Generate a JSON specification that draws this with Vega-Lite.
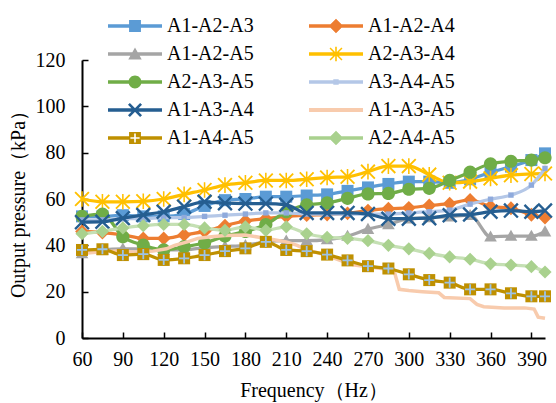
{
"$schema":"https://vega.github.io/schema/vega-lite/v6.json",
"width":463,"height":278,
"autosize":{"type":"none"},
"padding":{"left":82,"top":60,"right":11,"bottom":65},
"background":"white",
"data":{"values":[
{"s":"A1-A2-A3","f":60,"p":52.5},{"s":"A1-A2-A3","f":75,"p":52.5},{"s":"A1-A2-A3","f":90,"p":53},{"s":"A1-A2-A3","f":105,"p":52.5},{"s":"A1-A2-A3","f":120,"p":52.5},{"s":"A1-A2-A3","f":135,"p":53.5},{"s":"A1-A2-A3","f":150,"p":57},{"s":"A1-A2-A3","f":165,"p":59.5},{"s":"A1-A2-A3","f":180,"p":60},{"s":"A1-A2-A3","f":195,"p":61},{"s":"A1-A2-A3","f":210,"p":61},{"s":"A1-A2-A3","f":225,"p":61.5},{"s":"A1-A2-A3","f":240,"p":62},{"s":"A1-A2-A3","f":255,"p":63.5},{"s":"A1-A2-A3","f":270,"p":65},{"s":"A1-A2-A3","f":285,"p":66.5},{"s":"A1-A2-A3","f":300,"p":67.5},{"s":"A1-A2-A3","f":315,"p":67.5},{"s":"A1-A2-A3","f":330,"p":67},{"s":"A1-A2-A3","f":345,"p":68.5},{"s":"A1-A2-A3","f":360,"p":71.5},{"s":"A1-A2-A3","f":375,"p":74},{"s":"A1-A2-A3","f":390,"p":76.8},{"s":"A1-A2-A3","f":400,"p":79.7},
{"s":"A1-A2-A4","f":60,"p":46},{"s":"A1-A2-A4","f":75,"p":45.5},{"s":"A1-A2-A4","f":90,"p":44.5},{"s":"A1-A2-A4","f":105,"p":43},{"s":"A1-A2-A4","f":120,"p":43},{"s":"A1-A2-A4","f":135,"p":44.5},{"s":"A1-A2-A4","f":150,"p":46},{"s":"A1-A2-A4","f":165,"p":48.5},{"s":"A1-A2-A4","f":180,"p":50.5},{"s":"A1-A2-A4","f":195,"p":51.5},{"s":"A1-A2-A4","f":210,"p":52.5},{"s":"A1-A2-A4","f":225,"p":53},{"s":"A1-A2-A4","f":240,"p":53.3},{"s":"A1-A2-A4","f":255,"p":53.8},{"s":"A1-A2-A4","f":270,"p":55},{"s":"A1-A2-A4","f":285,"p":55.8},{"s":"A1-A2-A4","f":300,"p":56.2},{"s":"A1-A2-A4","f":315,"p":57.2},{"s":"A1-A2-A4","f":330,"p":58},{"s":"A1-A2-A4","f":345,"p":59.6},{"s":"A1-A2-A4","f":360,"p":56.8},{"s":"A1-A2-A4","f":375,"p":56},{"s":"A1-A2-A4","f":390,"p":53.2},{"s":"A1-A2-A4","f":400,"p":52},
{"s":"A1-A2-A5","f":60,"p":36.5},{"s":"A1-A2-A5","f":75,"p":38},{"s":"A1-A2-A5","f":90,"p":38.5},{"s":"A1-A2-A5","f":105,"p":38.5},{"s":"A1-A2-A5","f":120,"p":38},{"s":"A1-A2-A5","f":135,"p":38},{"s":"A1-A2-A5","f":150,"p":39},{"s":"A1-A2-A5","f":165,"p":39.5},{"s":"A1-A2-A5","f":180,"p":40},{"s":"A1-A2-A5","f":195,"p":41.5},{"s":"A1-A2-A5","f":210,"p":42},{"s":"A1-A2-A5","f":225,"p":42},{"s":"A1-A2-A5","f":240,"p":42.5},{"s":"A1-A2-A5","f":255,"p":44},{"s":"A1-A2-A5","f":270,"p":47},{"s":"A1-A2-A5","f":285,"p":49},{"s":"A1-A2-A5","f":300,"p":51.5},{"s":"A1-A2-A5","f":315,"p":52},{"s":"A1-A2-A5","f":330,"p":52.4},{"s":"A1-A2-A5","f":345,"p":53},{"s":"A1-A2-A5","f":360,"p":43.7},{"s":"A1-A2-A5","f":375,"p":44},{"s":"A1-A2-A5","f":390,"p":44},{"s":"A1-A2-A5","f":400,"p":45.9},
{"s":"A2-A3-A4","f":60,"p":60},{"s":"A2-A3-A4","f":75,"p":58.8},{"s":"A2-A3-A4","f":90,"p":58.8},{"s":"A2-A3-A4","f":105,"p":59},{"s":"A2-A3-A4","f":120,"p":60},{"s":"A2-A3-A4","f":135,"p":62},{"s":"A2-A3-A4","f":150,"p":63.9},{"s":"A2-A3-A4","f":165,"p":66},{"s":"A2-A3-A4","f":180,"p":67},{"s":"A2-A3-A4","f":195,"p":68},{"s":"A2-A3-A4","f":210,"p":68},{"s":"A2-A3-A4","f":225,"p":68.5},{"s":"A2-A3-A4","f":240,"p":69.3},{"s":"A2-A3-A4","f":255,"p":69.6},{"s":"A2-A3-A4","f":270,"p":71.8},{"s":"A2-A3-A4","f":285,"p":74.2},{"s":"A2-A3-A4","f":300,"p":74.2},{"s":"A2-A3-A4","f":315,"p":70.5},{"s":"A2-A3-A4","f":330,"p":67},{"s":"A2-A3-A4","f":345,"p":67.5},{"s":"A2-A3-A4","f":360,"p":68.9},{"s":"A2-A3-A4","f":375,"p":70.3},{"s":"A2-A3-A4","f":390,"p":70.8},{"s":"A2-A3-A4","f":400,"p":71},
{"s":"A2-A3-A5","f":60,"p":52.5},{"s":"A2-A3-A5","f":75,"p":53.5},{"s":"A2-A3-A5","f":90,"p":43.7},{"s":"A2-A3-A5","f":105,"p":40.1},{"s":"A2-A3-A5","f":120,"p":38},{"s":"A2-A3-A5","f":135,"p":39.4},{"s":"A2-A3-A5","f":150,"p":41},{"s":"A2-A3-A5","f":165,"p":44},{"s":"A2-A3-A5","f":180,"p":46},{"s":"A2-A3-A5","f":195,"p":49},{"s":"A2-A3-A5","f":210,"p":54.5},{"s":"A2-A3-A5","f":225,"p":57.5},{"s":"A2-A3-A5","f":240,"p":58.3},{"s":"A2-A3-A5","f":255,"p":60.3},{"s":"A2-A3-A5","f":270,"p":62.2},{"s":"A2-A3-A5","f":285,"p":62.4},{"s":"A2-A3-A5","f":300,"p":64.2},{"s":"A2-A3-A5","f":315,"p":64.6},{"s":"A2-A3-A5","f":330,"p":68},{"s":"A2-A3-A5","f":345,"p":71.6},{"s":"A2-A3-A5","f":360,"p":75.2},{"s":"A2-A3-A5","f":375,"p":76.3},{"s":"A2-A3-A5","f":390,"p":76.8},{"s":"A2-A3-A5","f":400,"p":77.8},
{"s":"A3-A4-A5","f":60,"p":51},{"s":"A3-A4-A5","f":75,"p":51},{"s":"A3-A4-A5","f":90,"p":51.5},{"s":"A3-A4-A5","f":105,"p":51.5},{"s":"A3-A4-A5","f":120,"p":52},{"s":"A3-A4-A5","f":135,"p":52},{"s":"A3-A4-A5","f":150,"p":52.5},{"s":"A3-A4-A5","f":165,"p":53},{"s":"A3-A4-A5","f":180,"p":53.5},{"s":"A3-A4-A5","f":195,"p":54},{"s":"A3-A4-A5","f":210,"p":54},{"s":"A3-A4-A5","f":225,"p":53.5},{"s":"A3-A4-A5","f":240,"p":53.5},{"s":"A3-A4-A5","f":255,"p":53.5},{"s":"A3-A4-A5","f":270,"p":53.5},{"s":"A3-A4-A5","f":285,"p":53.5},{"s":"A3-A4-A5","f":300,"p":54},{"s":"A3-A4-A5","f":315,"p":54.5},{"s":"A3-A4-A5","f":330,"p":55.2},{"s":"A3-A4-A5","f":345,"p":57.8},{"s":"A3-A4-A5","f":360,"p":59.9},{"s":"A3-A4-A5","f":375,"p":61.7},{"s":"A3-A4-A5","f":390,"p":66},{"s":"A3-A4-A5","f":400,"p":73.2},
{"s":"A1-A3-A4","f":60,"p":50},{"s":"A1-A3-A4","f":75,"p":50.2},{"s":"A1-A3-A4","f":90,"p":51.7},{"s":"A1-A3-A4","f":105,"p":53.1},{"s":"A1-A3-A4","f":120,"p":54.5},{"s":"A1-A3-A4","f":135,"p":56.7},{"s":"A1-A3-A4","f":150,"p":58.8},{"s":"A1-A3-A4","f":165,"p":58.2},{"s":"A1-A3-A4","f":180,"p":58},{"s":"A1-A3-A4","f":195,"p":58},{"s":"A1-A3-A4","f":210,"p":57.5},{"s":"A1-A3-A4","f":225,"p":54},{"s":"A1-A3-A4","f":240,"p":54},{"s":"A1-A3-A4","f":255,"p":54},{"s":"A1-A3-A4","f":270,"p":53.5},{"s":"A1-A3-A4","f":285,"p":51.5},{"s":"A1-A3-A4","f":300,"p":51.5},{"s":"A1-A3-A4","f":315,"p":51.7},{"s":"A1-A3-A4","f":330,"p":53},{"s":"A1-A3-A4","f":345,"p":53.3},{"s":"A1-A3-A4","f":360,"p":54.5},{"s":"A1-A3-A4","f":375,"p":55},{"s":"A1-A3-A4","f":390,"p":54.5},{"s":"A1-A3-A4","f":400,"p":55},
{"s":"A1-A3-A5","f":60,"p":36.5},{"s":"A1-A3-A5","f":70,"p":37},{"s":"A1-A3-A5","f":85,"p":37.5},{"s":"A1-A3-A5","f":100,"p":37},{"s":"A1-A3-A5","f":112,"p":37.5},{"s":"A1-A3-A5","f":122,"p":38.5},{"s":"A1-A3-A5","f":128,"p":40},{"s":"A1-A3-A5","f":138,"p":41.6},{"s":"A1-A3-A5","f":145,"p":43},{"s":"A1-A3-A5","f":155,"p":43.7},{"s":"A1-A3-A5","f":165,"p":44.2},{"s":"A1-A3-A5","f":180,"p":44.5},{"s":"A1-A3-A5","f":190,"p":43.5},{"s":"A1-A3-A5","f":200,"p":42.5},{"s":"A1-A3-A5","f":210,"p":41.5},{"s":"A1-A3-A5","f":218,"p":40},{"s":"A1-A3-A5","f":225,"p":38},{"s":"A1-A3-A5","f":235,"p":36.5},{"s":"A1-A3-A5","f":245,"p":34.5},{"s":"A1-A3-A5","f":252,"p":33},{"s":"A1-A3-A5","f":260,"p":31.5},{"s":"A1-A3-A5","f":270,"p":30.8},{"s":"A1-A3-A5","f":280,"p":30},{"s":"A1-A3-A5","f":289,"p":29.3},{"s":"A1-A3-A5","f":293,"p":21},{"s":"A1-A3-A5","f":300,"p":20.5},{"s":"A1-A3-A5","f":310,"p":20},{"s":"A1-A3-A5","f":322,"p":19.5},{"s":"A1-A3-A5","f":326,"p":17.5},{"s":"A1-A3-A5","f":345,"p":17},{"s":"A1-A3-A5","f":350,"p":14.5},{"s":"A1-A3-A5","f":355,"p":13.5},{"s":"A1-A3-A5","f":370,"p":13},{"s":"A1-A3-A5","f":385,"p":13},{"s":"A1-A3-A5","f":392,"p":12.5},{"s":"A1-A3-A5","f":395,"p":9},{"s":"A1-A3-A5","f":400,"p":8.5},
{"s":"A1-A4-A5","f":60,"p":38},{"s":"A1-A4-A5","f":75,"p":38.3},{"s":"A1-A4-A5","f":90,"p":35.8},{"s":"A1-A4-A5","f":105,"p":36.2},{"s":"A1-A4-A5","f":120,"p":33.7},{"s":"A1-A4-A5","f":135,"p":34.4},{"s":"A1-A4-A5","f":150,"p":35.8},{"s":"A1-A4-A5","f":165,"p":37.5},{"s":"A1-A4-A5","f":180,"p":38.7},{"s":"A1-A4-A5","f":195,"p":41.5},{"s":"A1-A4-A5","f":210,"p":38},{"s":"A1-A4-A5","f":225,"p":37.5},{"s":"A1-A4-A5","f":240,"p":36},{"s":"A1-A4-A5","f":255,"p":33.5},{"s":"A1-A4-A5","f":270,"p":31},{"s":"A1-A4-A5","f":285,"p":30},{"s":"A1-A4-A5","f":300,"p":27.5},{"s":"A1-A4-A5","f":315,"p":25},{"s":"A1-A4-A5","f":330,"p":23.9},{"s":"A1-A4-A5","f":345,"p":21},{"s":"A1-A4-A5","f":360,"p":21},{"s":"A1-A4-A5","f":375,"p":19.3},{"s":"A1-A4-A5","f":390,"p":18},{"s":"A1-A4-A5","f":400,"p":18},
{"s":"A2-A4-A5","f":60,"p":45},{"s":"A2-A4-A5","f":75,"p":46},{"s":"A2-A4-A5","f":90,"p":47.5},{"s":"A2-A4-A5","f":105,"p":48.5},{"s":"A2-A4-A5","f":120,"p":49},{"s":"A2-A4-A5","f":135,"p":49},{"s":"A2-A4-A5","f":150,"p":47.5},{"s":"A2-A4-A5","f":165,"p":46.5},{"s":"A2-A4-A5","f":180,"p":48},{"s":"A2-A4-A5","f":195,"p":46.5},{"s":"A2-A4-A5","f":210,"p":48},{"s":"A2-A4-A5","f":225,"p":45},{"s":"A2-A4-A5","f":240,"p":43.5},{"s":"A2-A4-A5","f":255,"p":43},{"s":"A2-A4-A5","f":270,"p":42},{"s":"A2-A4-A5","f":285,"p":40},{"s":"A2-A4-A5","f":300,"p":38.5},{"s":"A2-A4-A5","f":315,"p":36.5},{"s":"A2-A4-A5","f":330,"p":35},{"s":"A2-A4-A5","f":345,"p":34},{"s":"A2-A4-A5","f":360,"p":32},{"s":"A2-A4-A5","f":375,"p":31.5},{"s":"A2-A4-A5","f":390,"p":30.8},{"s":"A2-A4-A5","f":400,"p":28.5}
]},
"encoding":{
"x":{"field":"f","type":"quantitative","scale":{"domain":[60,400],"nice":false,"zero":false},
 "axis":{"title":"Frequency（Hz）","values":[60,90,120,150,180,210,240,270,300,330,360,390],"labelPadding":17,"titleY":58,"titleBaseline":"alphabetic","labelFlush":false}},
"y":{"field":"p","type":"quantitative","scale":{"domain":[0,120],"nice":false},
 "axis":{"title":"Output pressure（kPa）","values":[0,20,40,60,80,100,120],"labelPadding":23,"titleX":-58,"titleY":139,"titleAngle":-90,"titleBaseline":"alphabetic","titleAlign":"center"}}
},
"layer":[
{"transform":[{"filter":"datum.s==='A1-A2-A3'"}],"mark":{"type":"line","stroke":"#5B9BD5","strokeWidth":3.25,"interpolate":"monotone"}},
{"transform":[{"filter":"datum.s==='A1-A2-A3'"}],"mark":{"type":"point","filled":true,"fill":"#5B9BD5","strokeWidth":0,"opacity":1,"size":144,"shape":"M-1,-1H1V1H-1Z"}},
{"transform":[{"filter":"datum.s==='A1-A2-A4'"}],"mark":{"type":"line","stroke":"#ED7D31","strokeWidth":3.25,"interpolate":"monotone"}},
{"transform":[{"filter":"datum.s==='A1-A2-A4'"}],"mark":{"type":"point","filled":true,"fill":"#ED7D31","strokeWidth":0,"opacity":1,"size":144,"shape":"M0,-1.15L1.15,0L0,1.15L-1.15,0Z"}},
{"transform":[{"filter":"datum.s==='A1-A2-A5'"}],"mark":{"type":"line","stroke":"#A5A5A5","strokeWidth":3.25,"interpolate":"monotone"}},
{"transform":[{"filter":"datum.s==='A1-A2-A5'"}],"mark":{"type":"point","filled":true,"fill":"#A5A5A5","strokeWidth":0,"opacity":1,"size":144,"shape":"M0,-1.05L1.05,0.8L-1.05,0.8Z"}},
{"transform":[{"filter":"datum.s==='A2-A3-A4'"}],"mark":{"type":"line","stroke":"#FFC000","strokeWidth":3.25,"interpolate":"monotone"}},
{"transform":[{"filter":"datum.s==='A2-A3-A4'"}],"mark":{"type":"point","filled":true,"fill":"#FFC000","strokeWidth":0,"opacity":1,"size":144,"shape":"M-0.13,-1.3H0.13V1.3H-0.13Z M-1.04,-1.26L1.26,1.04L1.04,1.26L-1.26,-1.04Z M1.04,-1.26L1.26,-1.04L-1.04,1.26L-1.26,1.04Z"}},
{"transform":[{"filter":"datum.s==='A2-A3-A5'"}],"mark":{"type":"line","stroke":"#70AD47","strokeWidth":3.25,"interpolate":"monotone"}},
{"transform":[{"filter":"datum.s==='A2-A3-A5'"}],"mark":{"type":"point","filled":true,"fill":"#70AD47","strokeWidth":0,"opacity":1,"size":144,"shape":"M-1.1,0A1.1,1.1 0 1,1 1.1,0A1.1,1.1 0 1,1 -1.1,0Z"}},
{"transform":[{"filter":"datum.s==='A3-A4-A5'"}],"mark":{"type":"line","stroke":"#B4C7E7","strokeWidth":3.25,"interpolate":"monotone"}},
{"transform":[{"filter":"datum.s==='A3-A4-A5'"}],"mark":{"type":"point","filled":true,"fill":"#8FAADC","strokeWidth":0,"opacity":1,"size":144,"shape":"M-0.45,-0.45H0.45V0.45H-0.45Z"}},
{"transform":[{"filter":"datum.s==='A1-A3-A4'"}],"mark":{"type":"line","stroke":"#255E91","strokeWidth":3.25,"interpolate":"monotone"}},
{"transform":[{"filter":"datum.s==='A1-A3-A4'"}],"mark":{"type":"point","filled":true,"fill":"#255E91","strokeWidth":0,"opacity":1,"size":144,"shape":"M-1.01,-1.29L1.29,1.01L1.01,1.29L-1.29,-1.01Z M1.01,-1.29L1.29,-1.01L-1.01,1.29L-1.29,1.01Z"}},
{"transform":[{"filter":"datum.s==='A1-A3-A5'"}],"mark":{"type":"line","stroke":"#F8CBAD","strokeWidth":3.5,"interpolate":"linear"}},
{"transform":[{"filter":"datum.s==='A1-A4-A5'"}],"mark":{"type":"line","stroke":"#BF9000","strokeWidth":3.25,"interpolate":"monotone"}},
{"transform":[{"filter":"datum.s==='A1-A4-A5'"}],"mark":{"type":"point","filled":true,"fill":"#BF9000","strokeWidth":0,"opacity":1,"size":144,"shape":"M-1,-1H1V1H-1Z"}},
{"transform":[{"filter":"datum.s==='A1-A4-A5'"}],"mark":{"type":"point","filled":true,"fill":"#9DC3E6","strokeWidth":0,"opacity":1,"size":144,"shape":"M-0.15,-0.85H0.15V-0.15H0.85V0.15H0.15V0.85H-0.15V0.15H-0.85V-0.15H-0.15Z"}},
{"transform":[{"filter":"datum.s==='A2-A4-A5'"}],"mark":{"type":"line","stroke":"#C5E0B4","strokeWidth":3.25,"interpolate":"monotone"}},
{"transform":[{"filter":"datum.s==='A2-A4-A5'"}],"mark":{"type":"point","filled":true,"fill":"#A9D18E","strokeWidth":0,"opacity":1,"size":144,"shape":"M0,-1.1L1.1,0L0,1.1L-1.1,0Z"}},
{"transform":[{"filter":"datum.f < 0"}],"mark":{"type":"point","filled":true,"opacity":1},
 "encoding":{
 "color":{"field":"s","type":"nominal",
  "scale":{"domain":["A1-A2-A3","A1-A2-A5","A2-A3-A5","A1-A3-A4","A1-A4-A5","A1-A2-A4","A2-A3-A4","A3-A4-A5","A1-A3-A5","A2-A4-A5"],
   "range":["#5B9BD5","#A5A5A5","#70AD47","#255E91","#BF9000","#ED7D31","#FFC000","#B4C7E7","#F8CBAD","#A9D18E"]},
  "legend":{"orient":"none","legendX":26,"legendY":-44,"columns":2,"title":null,"symbolSize":2916,"clipHeight":20,"rowPadding":8,"columnPadding":55,"labelOffset":5,"labelFont":"Liberation Serif","labelFontSize":20,"labelColor":"#000","symbolStrokeWidth":0,"padding":0,"labelLimit":300,"symbolOpacity":1}},
 "shape":{"field":"s","type":"nominal",
  "scale":{"domain":["A1-A2-A3","A1-A2-A5","A2-A3-A5","A1-A3-A4","A1-A4-A5","A1-A2-A4","A2-A3-A4","A3-A4-A5","A1-A3-A5","A2-A4-A5"],
   "range":[
   "M-1,-0.065H1V0.065H-1Z M-0.22,-0.22H0.22V0.22H-0.22Z",
   "M-1,-0.065H1V0.065H-1Z M0,-0.24L0.25,0.2L-0.25,0.2Z",
   "M-1,-0.065H1V0.065H-1Z M-0.24,0A0.24,0.24 0 1,1 0.24,0A0.24,0.24 0 1,1 -0.24,0Z",
   "M-1,-0.065H1V0.065H-1Z M-0.19,-0.26L0.26,0.19L0.19,0.26L-0.26,-0.19Z M0.19,-0.26L0.26,-0.19L-0.19,0.26L-0.26,0.19Z",
   "M-1,-0.065H-0.22V0.065H-1Z M0.22,-0.065H1V0.065H0.22Z M-0.22,-0.22H0.22V0.22H-0.22Z M-0.03,-0.17L-0.03,-0.03L-0.17,-0.03L-0.17,0.03L-0.03,0.03L-0.03,0.17L0.03,0.17L0.03,0.03L0.17,0.03L0.17,-0.03L0.03,-0.03L0.03,-0.17Z",
   "M-1,-0.065H1V0.065H-1Z M0,-0.27L0.27,0L0,0.27L-0.27,0Z",
   "M-1,-0.065H1V0.065H-1Z M-0.03,-0.27H0.03V0.27H-0.03Z M-0.2,-0.24L0.24,0.2L0.2,0.24L-0.24,-0.2Z M0.2,-0.24L0.24,-0.2L-0.2,0.24L-0.24,0.2Z",
   "M-1,-0.065H1V0.065H-1Z M-0.1,-0.1H0.1V0.1H-0.1Z",
   "M-1,-0.075H1V0.075H-1Z",
   "M-1,-0.065H1V0.065H-1Z M0,-0.27L0.27,0L0,0.27L-0.27,0Z"]},
  "legend":{"orient":"none","legendX":26,"legendY":-44,"columns":2,"title":null,"symbolSize":2916,"clipHeight":20,"rowPadding":8,"columnPadding":55,"labelOffset":5,"labelFont":"Liberation Serif","labelFontSize":20,"labelColor":"#000","symbolStrokeWidth":0,"padding":0,"labelLimit":300,"symbolOpacity":1}}
 }}
],
"config":{
"view":{"stroke":null},
"axis":{"labelFont":"Liberation Serif","titleFont":"Liberation Serif","labelFontSize":20,"titleFontSize":20,"titleFontWeight":"normal","labelColor":"#000","titleColor":"#000","domainColor":"#000","domainWidth":2,"tickColor":"#000","tickWidth":1.5,"tickSize":-6,"grid":false}
}
}
